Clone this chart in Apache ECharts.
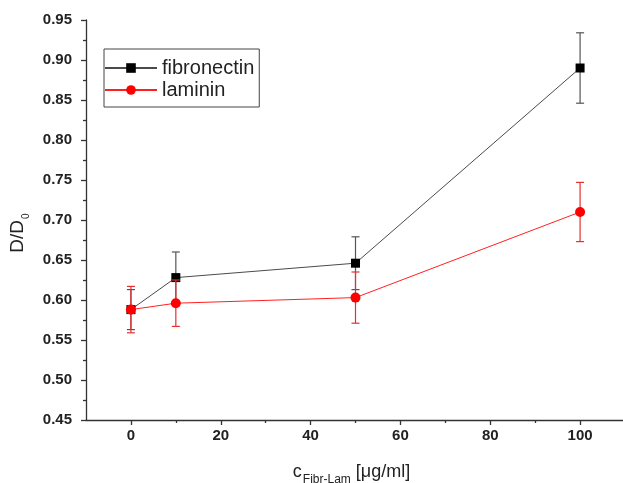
<!DOCTYPE html>
<html>
<head>
<meta charset="utf-8">
<script src="https://cdn.jsdelivr.net/npm/echarts@6/dist/echarts.min.js"></script>
<style>
  html, body { margin: 0; padding: 0; background: #fff; }
  #chart { width: 623px; height: 483px; }
</style>
</head>
<body>
<div id="chart"></div>
<script>
const xValues = [0, 10, 50, 100]
const fibronectin = [0.588, 0.628, 0.646, 0.890]
const fibronectinErr = [0.025, 0.032, 0.033, 0.044]
const laminin = [0.588, 0.596, 0.603, 0.710]
const lamininErr = [0.029, 0.029, 0.032, 0.037]
const xMajorTicks = [0, 20, 40, 60, 80, 100]
const xMinorTicks = [10, 30, 50, 70, 90]

const FONT = 'Liberation Sans, Arial, sans-serif'

function pairs(ys) {
  return xValues.map((x, i) => [x, ys[i]])
}

function errRows(ys, errs) {
  return xValues.map((x, i) => [x, ys[i] - errs[i], ys[i] + errs[i]])
}

function errorBars(color) {
  return function (params, api) {
    const lo = api.coord([api.value(0), api.value(1)])
    const hi = api.coord([api.value(0), api.value(2)])
    const cap = 4
    const style = { stroke: color, lineWidth: 1.2 }
    return {
      type: 'group',
      children: [
        { type: 'line', shape: { x1: lo[0], y1: lo[1], x2: hi[0], y2: hi[1] }, style },
        { type: 'line', shape: { x1: lo[0] - cap, y1: lo[1], x2: lo[0] + cap, y2: lo[1] }, style },
        { type: 'line', shape: { x1: hi[0] - cap, y1: hi[1], x2: hi[0] + cap, y2: hi[1] }, style }
      ]
    }
  }
}

const chart = echarts.init(document.getElementById('chart'))

const tickLine = { color: '#333', width: 1.3 }

chart.setOption({
  animation: false,
  textStyle: { fontFamily: FONT },
  grid: { left: 86, top: 20, width: 539, bottom: 63, outerBoundsMode: 'none', containLabel: false },
  legend: {
    orient: 'vertical',
    left: 104,
    top: 49,
    padding: [9, 5, 7, 0],
    itemWidth: 52,
    itemHeight: 12,
    itemGap: 2,
    borderColor: '#444',
    borderWidth: 1,
    borderRadius: 0,
    textStyle: { fontSize: 20, color: '#222', fontFamily: FONT, lineHeight: 20 },
    data: ['fibronectin', 'laminin']
  },
  xAxis: [
    {
      type: 'value',
      min: -10,
      max: 110,
      splitLine: { show: false },
      axisLine: { onZero: false, lineStyle: tickLine },
      axisTick: { length: 5, customValues: xMajorTicks, lineStyle: tickLine },
      axisLabel: {
        customValues: xMajorTicks,
        margin: 8,
        fontSize: 15,
        fontWeight: 'bold',
        color: '#222'
      },
      name: '{c|c}{s|Fibr-Lam}{a| [\u03bcg/ml]}',
      nameLocation: 'middle',
      nameGap: 43,
      nameTextStyle: {
        padding: [0, 8, 0, 0],
        rich: {
          c: { fontSize: 18, color: '#222', verticalAlign: 'top' },
          s: { fontSize: 12, color: '#222', padding: [11, 0, 0, 1], verticalAlign: 'top' },
          a: { fontSize: 18, color: '#222', verticalAlign: 'top' }
        }
      }
    },
    {
      type: 'value',
      min: -10,
      max: 110,
      position: 'bottom',
      splitLine: { show: false },
      axisLine: { show: false, onZero: false },
      axisLabel: { show: false },
      axisTick: { length: 3, customValues: xMinorTicks, lineStyle: tickLine }
    }
  ],
  yAxis: {
    type: 'value',
    min: 0.45,
    max: 0.95,
    interval: 0.05,
    splitLine: { show: false },
    axisLine: { show: true, onZero: false, lineStyle: tickLine },
    axisTick: { show: true, length: 5, lineStyle: tickLine },
    minorTick: { show: true, splitNumber: 2, length: 3, lineStyle: tickLine },
    axisLabel: {
      margin: 14,
      fontSize: 15,
      fontWeight: 'bold',
      color: '#222',
      formatter: (v) => v.toFixed(2)
    },
    name: '{a|D/D}{s|0}',
    nameLocation: 'middle',
    nameGap: 55,
    nameTextStyle: {
      padding: [0, 0, 0, -26],
      rich: {
        a: { fontSize: 19, color: '#222', verticalAlign: 'top' },
        s: { fontSize: 10, color: '#222', padding: [13, 0, 0, 1], verticalAlign: 'top' }
      }
    }
  },
  series: [
    {
      type: 'custom',
      name: 'fibronectin-err',
      renderItem: errorBars('#555'),
      data: errRows(fibronectin, fibronectinErr),
      z: 2
    },
    {
      type: 'line',
      name: 'fibronectin',
      data: pairs(fibronectin),
      symbol: 'rect',
      symbolSize: 9,
      lineStyle: { color: '#4a4a4a', width: 1 },
      itemStyle: { color: '#000' },
      z: 3
    },
    {
      type: 'custom',
      name: 'laminin-err',
      renderItem: errorBars('#e53030'),
      data: errRows(laminin, lamininErr),
      z: 4
    },
    {
      type: 'line',
      name: 'laminin',
      data: pairs(laminin),
      symbol: 'circle',
      symbolSize: 10,
      lineStyle: { color: '#ff2020', width: 1 },
      itemStyle: { color: '#ff0000' },
      z: 5
    }
  ]
})
</script>
</body>
</html>
